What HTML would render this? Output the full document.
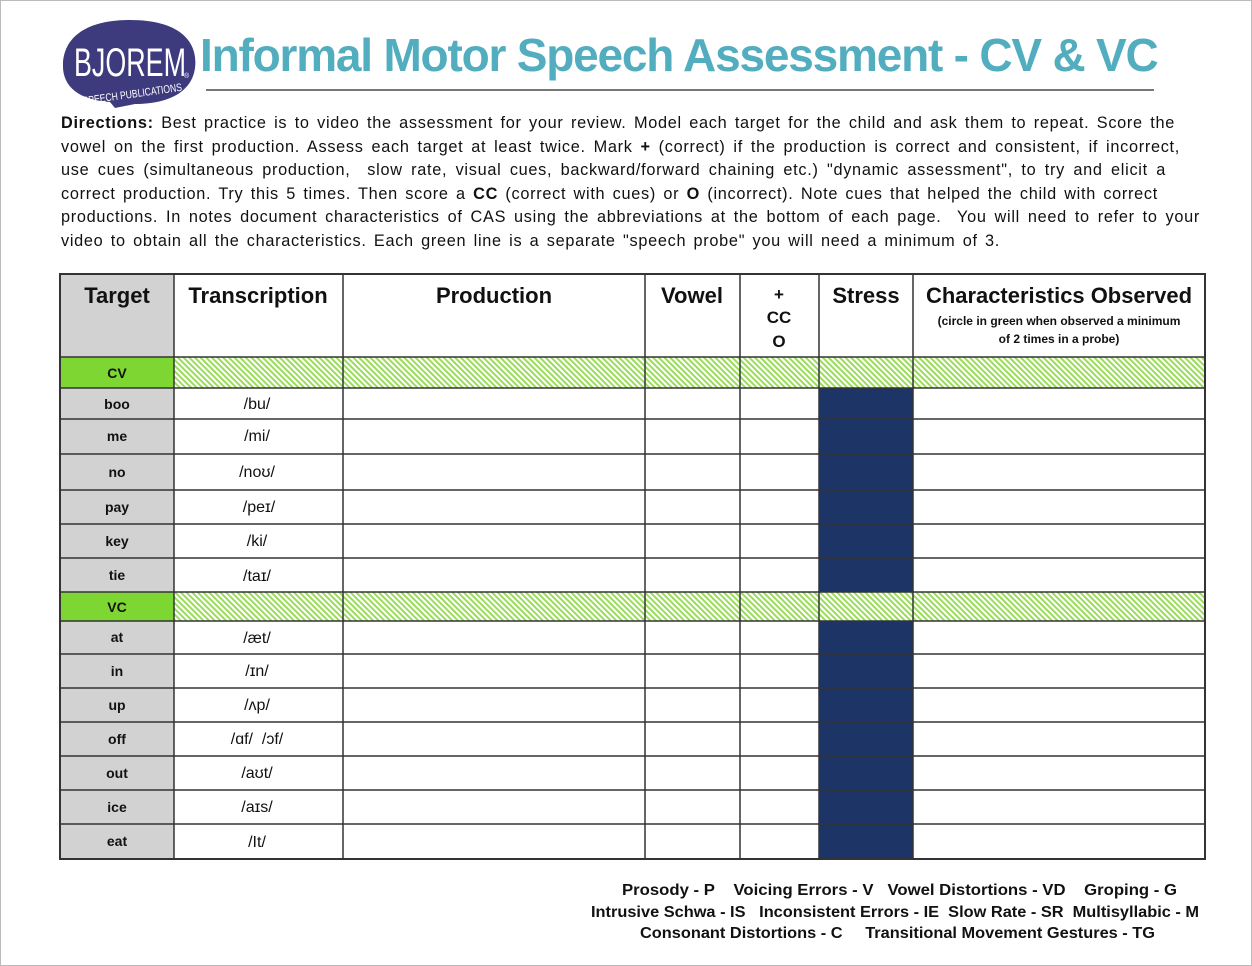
<!DOCTYPE html>
<html><head><meta charset="utf-8"><style>
body{margin:0;width:1252px;height:966px;background:#fff;position:relative;overflow:hidden;font-family:"Liberation Sans",sans-serif;}
.t{position:absolute;}
.d div{text-align:justify;text-align-last:justify;white-space:nowrap;height:23.6px;letter-spacing:0.7px}
</style></head><body>
<div class="t" style="left:0;top:0;width:1250px;height:964px;border:1px solid #bbb"></div>
<svg class="t" style="left:60px;top:16px" width="140" height="95">
<path d="M70 4 C125 4 138 30 135 52 C132 75 110 88 75 88 L55 92 L50 86 C18 84 2 70 3 48 C4 22 25 4 70 4Z" fill="#3d3a7e"/>
<text x="14" y="60" fill="#fff" font-size="40" textLength="112" lengthAdjust="spacingAndGlyphs">BJOREM</text>
<text x="22" y="82" fill="#fff" font-size="11" textLength="100" lengthAdjust="spacingAndGlyphs" transform="rotate(-8 70 76)">SPEECH PUBLICATIONS</text>
<text x="124" y="62" fill="#fff" font-size="7">®</text>
</svg>
<div class="t" style="left:200px;top:28px;font-size:46px;color:#52adbf;font-weight:bold;letter-spacing:-1.2px;white-space:nowrap">Informal Motor Speech Assessment - CV &amp; VC</div>
<div class="t" style="left:206px;top:89px;width:948px;height:2px;background:#777"></div>
<div class="t d" style="left:61px;top:112px;font-size:16.3px;line-height:23.6px;color:#111">
<div style="width:1114px"><b>Directions:</b> Best practice is to video the assessment for your review. Model each target for the child and ask them to repeat. Score the</div>
<div style="width:1119px">vowel on the first production. Assess each target at least twice. Mark <b>+</b> (correct) if the production is correct and consistent, if incorrect,</div>
<div style="width:1105px">use cues (simultaneous production,&nbsp; slow rate, visual cues, backward/forward chaining etc.) "dynamic assessment", to try and elicit a</div>
<div style="width:1097px">correct production. Try this 5 times. Then score a <b>CC</b> (correct with cues) or <b>O</b> (incorrect). Note cues that helped the child with correct</div>
<div style="width:1139px">productions. In notes document characteristics of CAS using the abbreviations at the bottom of each page.&nbsp; You will need to refer to your</div>
<div style="width:939px">video to obtain all the characteristics. Each green line is a separate "speech probe" you will need a minimum of 3.</div>
</div>
<svg class="t" style="left:0;top:0" width="1252" height="966" font-family="Liberation Sans,sans-serif">
<defs><pattern id="h" width="4" height="4" patternUnits="userSpaceOnUse" patternTransform="rotate(-45)"><rect width="4" height="4" fill="#fff"/><rect width="2" height="4" fill="#9bdc5c"/></pattern></defs>
<rect x="60" y="274" width="114" height="585" fill="#d2d2d2"/>
<rect x="60" y="357" width="114" height="31" fill="#7ed632"/>
<rect x="60" y="592" width="114" height="29" fill="#7ed632"/>
<rect x="174" y="357" width="1031" height="31" fill="url(#h)"/>
<rect x="174" y="592" width="1031" height="29" fill="url(#h)"/>
<rect x="819" y="388" width="94" height="204" fill="#1c3566"/>
<rect x="819" y="621" width="94" height="238" fill="#1c3566"/>
<g stroke="#333" stroke-width="1.5" fill="none">
<rect x="60" y="274" width="1145" height="585" stroke-width="2"/>
<path d="M174 274V859M343 274V859M645 274V859M740 274V859M819 274V859M913 274V859"/>
<path d="M60 357H1205M60 388H1205M60 419H1205M60 454H1205M60 490H1205M60 524H1205M60 558H1205M60 592H1205M60 621H1205M60 654H1205M60 688H1205M60 722H1205M60 756H1205M60 790H1205M60 824H1205"/>
</g>
<g font-weight="bold" font-size="22" text-anchor="middle" fill="#111">
<text x="117" y="303">Target</text><text x="258" y="303">Transcription</text><text x="494" y="303">Production</text><text x="692" y="303">Vowel</text><text x="866" y="303">Stress</text><text x="1059" y="303" textLength="266" lengthAdjust="spacingAndGlyphs">Characteristics Observed</text>
</g>
<g font-weight="bold" font-size="17" text-anchor="middle" fill="#111"><text x="779" y="300">+</text><text x="779" y="323">CC</text><text x="779" y="347">O</text></g>
<g font-weight="bold" font-size="12" text-anchor="middle" fill="#111"><text x="1059" y="325">(circle in green when observed a minimum</text><text x="1059" y="343">of 2 times in a probe)</text></g>
<g font-weight="bold" font-size="14" text-anchor="middle" fill="#111">
<text x="117" y="378">CV</text><text x="117" y="409">boo</text><text x="117" y="441">me</text><text x="117" y="477">no</text><text x="117" y="512">pay</text><text x="117" y="546">key</text><text x="117" y="580">tie</text><text x="117" y="612">VC</text><text x="117" y="642">at</text><text x="117" y="676">in</text><text x="117" y="710">up</text><text x="117" y="744">off</text><text x="117" y="778">out</text><text x="117" y="812">ice</text><text x="117" y="846">eat</text>
</g>
<g font-size="16" text-anchor="middle" fill="#111">
<text x="257" y="409">/bu/</text><text x="257" y="441">/mi/</text><text x="257" y="477">/noʊ/</text><text x="259" y="512">/peɪ/</text><text x="257" y="546">/ki/</text><text x="257" y="581">/taɪ/</text><text x="257" y="643">/æt/</text><text x="257" y="676">/ɪn/</text><text x="257" y="710">/ʌp/</text><text x="257" y="744">/ɑf/&#160; /ɔf/</text><text x="257" y="778">/aʊt/</text><text x="257" y="812">/aɪs/</text><text x="257" y="847">/It/</text>
</g>
<g font-size="15.5" font-weight="bold" fill="#111">
<text x="622" y="895" textLength="555" lengthAdjust="spacingAndGlyphs">Prosody - P&#160;&#160;&#160; Voicing Errors - V&#160;&#160; Vowel Distortions - VD&#160;&#160;&#160; Groping - G</text>
<text x="591" y="917" textLength="608" lengthAdjust="spacingAndGlyphs">Intrusive Schwa - IS&#160;&#160; Inconsistent Errors - IE&#160; Slow Rate - SR&#160; Multisyllabic - M</text>
<text x="640" y="938" textLength="515" lengthAdjust="spacingAndGlyphs">Consonant Distortions - C&#160;&#160;&#160;&#160; Transitional Movement Gestures - TG</text>
</g>
</svg>
</body></html>
